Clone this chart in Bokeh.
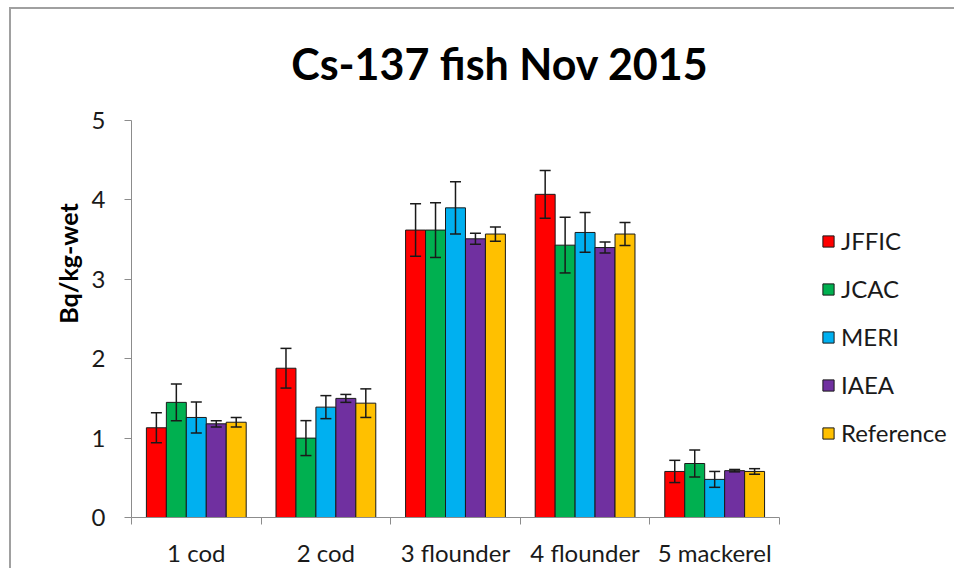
from bokeh.plotting import figure
from bokeh.models import (Range1d, FixedTicker, Whisker, ColumnDataSource, Legend,
                          LegendItem, TeeHead, Label)
from bokeh.embed import file_html
from bokeh.resources import INLINE

title_text = "Cs-137 fish Nov 2015"
categories = ["1 cod", "2 cod", "3 flounder", "4 flounder", "5 mackerel"]
series_names = ["JFFIC", "JCAC", "MERI", "IAEA", "Reference"]
colors = ["#FF0000", "#00B050", "#00B0F0", "#7030A0", "#FFC000"]

jffic = [1.13, 1.88, 3.62, 4.07, 0.58]
jffic_err = [0.19, 0.25, 0.33, 0.30, 0.14]
jcac = [1.45, 1.00, 3.62, 3.43, 0.68]
jcac_err = [0.23, 0.22, 0.345, 0.35, 0.17]
meri = [1.26, 1.39, 3.90, 3.59, 0.48]
meri_err = [0.195, 0.145, 0.33, 0.25, 0.10]
iaea = [1.18, 1.50, 3.51, 3.40, 0.59]
iaea_err = [0.04, 0.05, 0.07, 0.07, 0.015]
reference = [1.20, 1.44, 3.57, 3.57, 0.58]
reference_err = [0.06, 0.18, 0.09, 0.145, 0.035]

values = [jffic, jcac, meri, iaea, reference]
errors = [jffic_err, jcac_err, meri_err, iaea_err, reference_err]
y_ticks = [0, 1, 2, 3, 4, 5]
y_max = 5

FONT = "Lato"
AXIS_GRAY = "#8c8c8c"
INK = "#1a1a1a"

n = len(categories)
# extra room to the right of the categories (legend) and above the axis (title)
x_end = n + 1.366
y_end = y_max * 508 / 397

p = figure(width=945, height=561, x_range=Range1d(0, x_end), y_range=Range1d(0, y_end),
           title=None, output_backend="svg", toolbar_location=None,
           min_border_left=120, min_border_right=0, min_border_top=0,
           min_border_bottom=53)
p.margin = (7, 0, 0, 9)
p.styles = {"border-top": "2px solid #a0a0a0", "border-left": "2px solid #a0a0a0"}

p.outline_line_color = None
p.xgrid.grid_line_color = None
p.ygrid.grid_line_color = None

p.add_layout(Label(x=2.843, y=5.72, text=title_text, text_align="center",
                   text_baseline="alphabetic", text_font=FONT,
                   text_font_size="43px", text_font_style="bold",
                   text_color="#000000"))

bw = 0.154
items = []
for j, (name, vals, errs, col) in enumerate(zip(series_names, values, errors, colors)):
    xs = [i + 0.5 + (j - 2) * bw for i in range(n)]
    src = ColumnDataSource(dict(x=xs, top=vals,
                                upper=[v + e for v, e in zip(vals, errs)],
                                lower=[v - e for v, e in zip(vals, errs)]))
    r = p.vbar(x="x", top="top", width=bw, source=src, fill_color=col,
               line_color=INK, line_width=1)
    w = Whisker(base="x", upper="upper", lower="lower", source=src,
                line_color=INK, line_width=1.5, level="overlay",
                upper_head=TeeHead(size=11, line_width=1.5, line_color=INK),
                lower_head=TeeHead(size=11, line_width=1.5, line_color=INK))
    p.add_layout(w)
    items.append(LegendItem(label=name, renderers=[r]))

# x axis
xa = p.xaxis[0]
xa.bounds = (0, n)
xa.ticker = FixedTicker(ticks=[i + 0.5 for i in range(n)],
                        minor_ticks=list(range(n + 1)))
xa.major_label_overrides = {i + 0.5: c for i, c in enumerate(categories)}
xa.major_tick_line_color = None
xa.minor_tick_line_color = AXIS_GRAY
xa.minor_tick_in = 0
xa.minor_tick_out = 7
xa.axis_line_color = AXIS_GRAY
xa.major_label_standoff = 13
xa.major_label_text_font = FONT
xa.major_label_text_font_size = "24px"
xa.major_label_text_color = INK

# y axis
ya = p.yaxis[0]
ya.bounds = (0, y_max)
ya.ticker = FixedTicker(ticks=y_ticks)
ya.major_tick_in = 0
ya.major_tick_out = 7
ya.minor_tick_line_color = None
ya.major_tick_line_color = AXIS_GRAY
ya.axis_line_color = AXIS_GRAY
ya.major_label_standoff = 19
ya.major_label_text_font = FONT
ya.major_label_text_font_size = "24px"
ya.major_label_text_color = INK
ya.axis_label = "Bq/kg-wet"
ya.axis_label_text_font = FONT
ya.axis_label_text_font_size = "25px"
ya.axis_label_text_font_style = "bold"
ya.axis_label_text_color = "#000000"
ya.axis_label_standoff = 6

legend = Legend(items=items, location=(690, 70), orientation="vertical",
                border_line_color=None, background_fill_alpha=0,
                padding=0, margin=0, spacing=19, label_height=29,
                glyph_height=14, glyph_width=14, label_standoff=6,
                label_text_font=FONT, label_text_font_size="24px",
                label_text_color=INK)
p.add_layout(legend)

open("out.html", "w").write(file_html(p, INLINE))
